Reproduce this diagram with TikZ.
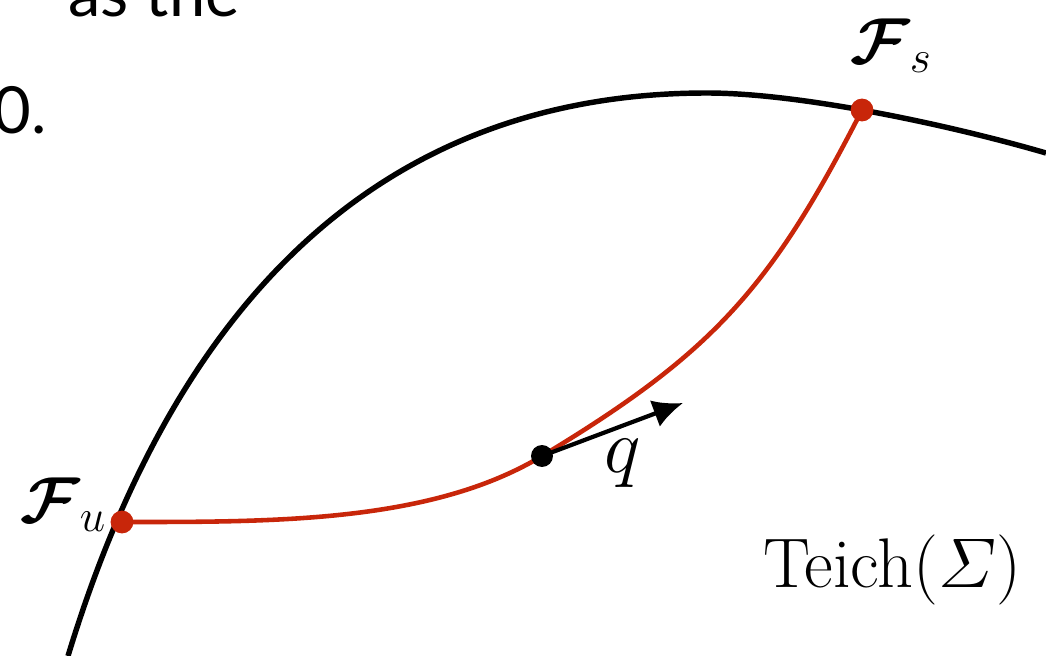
\RequirePackage{fix-cm}
\documentclass[tikz,border=0pt]{standalone}
\usepackage{amsmath,amssymb}
\usepackage{fontspec}
\usepackage{tikz}
\usetikzlibrary{arrows.meta}
\newfontfamily\slidefont{Lato}
\definecolor{geored}{RGB}{200,38,10}
\newcommand{\Fol}{\boldsymbol{\mathcal{F}}}

\begin{document}
\begin{tikzpicture}[
  x=0.02cm, y=-0.02cm,
  teich/.style={line width=3.1pt, black},
  geod/.style={line width=2.6pt, geored},
  reddot/.style={circle, fill=geored, inner sep=0pt, minimum size=13pt},
  blackdot/.style={circle, fill=black, inner sep=0pt, minimum size=12.5pt},
  tvec/.style={line width=2.4pt, -{Latex[length=17pt, width=16pt]}},
  lab/.style={font=\fontsize{37}{44}\selectfont, inner sep=0pt},
  slide/.style={font=\slidefont\fontsize{37}{44}\selectfont, inner sep=0pt, anchor=base east}
]
\useasboundingbox (0,0) rectangle (1046,656);
\clip (0,0) rectangle (1046,656);

% leftover slide text
\node[slide] (txta) at (240,16) {as the};
\node[slide] (txtb) at (47,133) {0.};

% points
\coordinate (fu) at (122,522);
\coordinate (fs) at (862,110);
\coordinate (p) at (542,456);
\coordinate (qtip) at (683,403);

% Teichmueller space boundary
\draw[teich] (68,656) .. controls (190,255) and (420,93) .. (707,93)
  .. controls (800,93) and (950,125) .. (1046,153);

% geodesic
\draw[geod] (fu) .. controls (272,522) and (431,523) .. (p)
  .. controls (713,353) and (771,288) .. (fs);

% tangent vector
\draw[tvec] (p) -- (qtip);

\node[reddot] (Fu) at (fu) {};
\node[reddot] (Fs) at (fs) {};
\node[blackdot] (P) at (p) {};

% labels
\node[lab, anchor=base west] (labu) at (20,522) {$\Fol_u$};
\node[lab, anchor=base west] (labs) at (850,63) {$\Fol_s$};
\node[lab, anchor=base, font=\fontsize{44}{52}\selectfont] (labq) at (623,472) {$q$};
\node[lab, anchor=base west, font=\fontsize{40}{48}\selectfont] (teichlab) at (763,587) {Teich($\varSigma$)};
\end{tikzpicture}
\end{document}
